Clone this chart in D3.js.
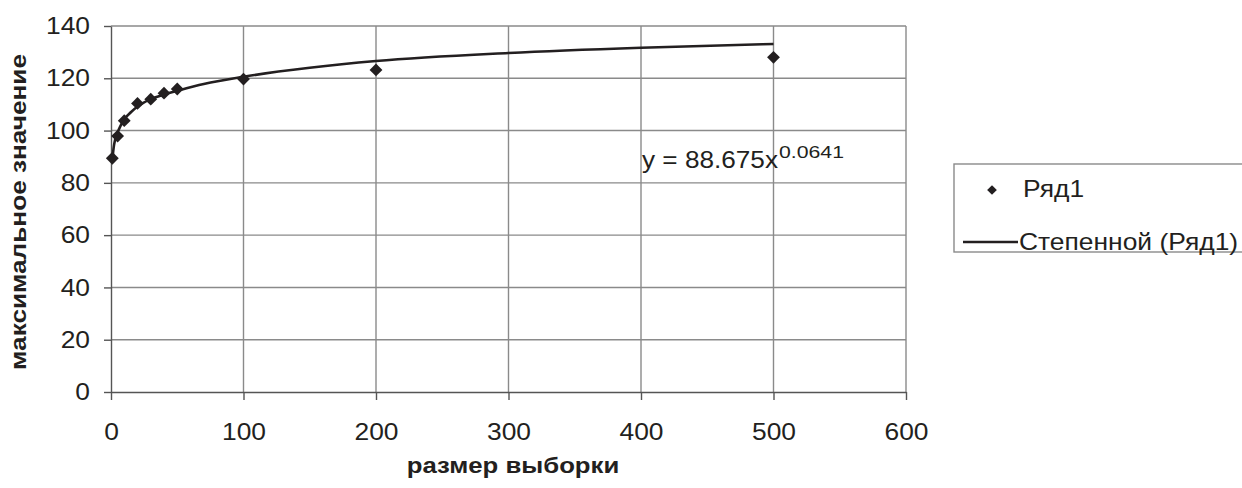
<!DOCTYPE html>
<html><head><meta charset="utf-8">
<script src="https://cdn.jsdelivr.net/npm/d3@7"></script>
<style>
html,body{margin:0;padding:0;background:#fff;}
svg text{font-family:"Liberation Sans",Arial,Helvetica,sans-serif;fill:#231f20;}
</style></head>
<body>
<svg id="chart" width="1242" height="488"></svg>
<script>
const sampleSizes = [1, 5, 10, 20, 30, 40, 50, 100, 200, 500];
const maxValues = [89.4, 97.9, 103.8, 110.4, 112.0, 114.3, 115.9, 119.7, 123.2, 128.0];
const xTicks = [0, 100, 200, 300, 400, 500, 600];
const yTicks = [0, 20, 40, 60, 80, 100, 120, 140];
// power trendline as drawn in the picture (y = 88.675x^0.0641)
const trendXs = [1, 2, 3, 5, 7, 10, 15, 20, 30, 40, 50, 70, 100, 150, 200, 300, 400, 500];
const trendYs = [88.7, 93.5, 96.3, 99.3, 101.6, 104.3, 107.0, 109.2, 112.0, 113.8, 115.2, 117.8, 120.6, 124.0, 126.6, 129.7, 131.7, 133.1];
const seriesName = "Ряд1";
const trendName = "Степенной (Ряд1)";
const eqMain = "y = 88.675x";
const eqExp = "0.0641";
const xTitle = "размер выборки";
const yTitle = "максимальное значение";

const svg = d3.select("#chart");
const x = d3.scaleLinear().domain([0, 600]).range([111, 906]);
const y = d3.scaleLinear().domain([0, 140]).range([392, 26]);
const ink = "#231f20", grid = "#8a8a8a";

function stretch(sel, f) {
  sel.each(function () {
    const w = this.getComputedTextLength();
    d3.select(this).attr("textLength", w * f).attr("lengthAdjust", "spacingAndGlyphs");
  });
}

// grid
svg.append("g").selectAll("line").data(yTicks.slice(1)).join("line")
  .attr("x1", x(0)).attr("x2", x(600)).attr("y1", d => y(d)).attr("y2", d => y(d))
  .attr("stroke", grid).attr("stroke-width", 1.4);
svg.append("g").selectAll("line").data(xTicks.slice(1)).join("line")
  .attr("y1", y(0)).attr("y2", y(140)).attr("x1", d => x(d)).attr("x2", d => x(d))
  .attr("stroke", grid).attr("stroke-width", 1.4);

// axes
const xAxis = d3.axisBottom(x).tickValues(xTicks).tickSize(8).tickPadding(23).tickSizeOuter(0);
const gx = svg.append("g").attr("transform", `translate(0,${y(0)})`).call(xAxis);
gx.attr("font-family", null).attr("font-size", null);
gx.select(".domain").attr("stroke", "#555").attr("stroke-width", 1.4);
gx.selectAll(".tick line").attr("stroke", "#555").attr("stroke-width", 1.4);
gx.selectAll(".tick text").attr("font-size", 24).attr("fill", ink).attr("dy", "0.71em");
stretch(gx.selectAll(".tick text"), 1.1);

const yAxis = d3.axisLeft(y).tickValues(yTicks).tickSize(7).tickPadding(14).tickSizeOuter(0);
const gy = svg.append("g").attr("transform", `translate(${x(0)},0)`).call(yAxis);
gy.attr("font-family", null).attr("font-size", null);
gy.select(".domain").attr("stroke", "#555").attr("stroke-width", 1.4);
gy.selectAll(".tick line").attr("stroke", "#555").attr("stroke-width", 1.4);
gy.selectAll(".tick text").attr("font-size", 24).attr("fill", ink);
stretch(gy.selectAll(".tick text"), 1.1);

// trendline
const line = d3.line().x(d => x(d)).y((d, i) => y(trendYs[i])).curve(d3.curveMonotoneX);
svg.append("path").datum(trendXs).attr("d", line)
  .attr("fill", "none").attr("stroke", ink).attr("stroke-width", 2.6);

// markers
const diamond = d3.symbol().type(d3.symbolDiamond2).size(105);
svg.append("g").selectAll("path").data(sampleSizes).join("path")
  .attr("d", diamond)
  .attr("transform", (d, i) => `translate(${x(d)},${y(maxValues[i])})`)
  .attr("fill", ink);

// equation
const eq = svg.append("text").attr("x", 642).attr("y", 168).attr("font-size", 24).text(eqMain);
stretch(eq, 1.09);
const eqEnd = 642 + (+eq.attr("textLength"));
const ex = svg.append("text").attr("x", eqEnd + 1).attr("y", 158).attr("font-size", 17).text(eqExp);
stretch(ex, 1.25);

// axis titles
const xt = svg.append("text").attr("x", 513).attr("y", 473).attr("text-anchor", "middle")
  .attr("font-size", 22).attr("font-weight", "bold").text(xTitle);
stretch(xt, 1.17);
const yt = svg.append("text").attr("transform", "translate(26,212) rotate(-90)").attr("text-anchor", "middle")
  .attr("font-size", 22).attr("font-weight", "bold").text(yTitle);
stretch(yt, 1.19);

// legend
const lg = svg.append("g");
lg.append("rect").attr("x", 954).attr("y", 164).attr("width", 300).attr("height", 88)
  .attr("fill", "#fff").attr("stroke", grid).attr("stroke-width", 1.4);
lg.append("path").attr("d", d3.symbol().type(d3.symbolDiamond2).size(60))
  .attr("transform", "translate(992,190)").attr("fill", ink);
const l1 = lg.append("text").attr("x", 1023).attr("y", 197).attr("font-size", 24).text(seriesName);
stretch(l1, 1.1);
lg.append("line").attr("x1", 963).attr("x2", 1018).attr("y1", 242).attr("y2", 242)
  .attr("stroke", ink).attr("stroke-width", 2.6);
const l2 = lg.append("text").attr("x", 1019).attr("y", 250).attr("font-size", 24).text(trendName);
stretch(l2, 1.1);
</script>
</body></html>
